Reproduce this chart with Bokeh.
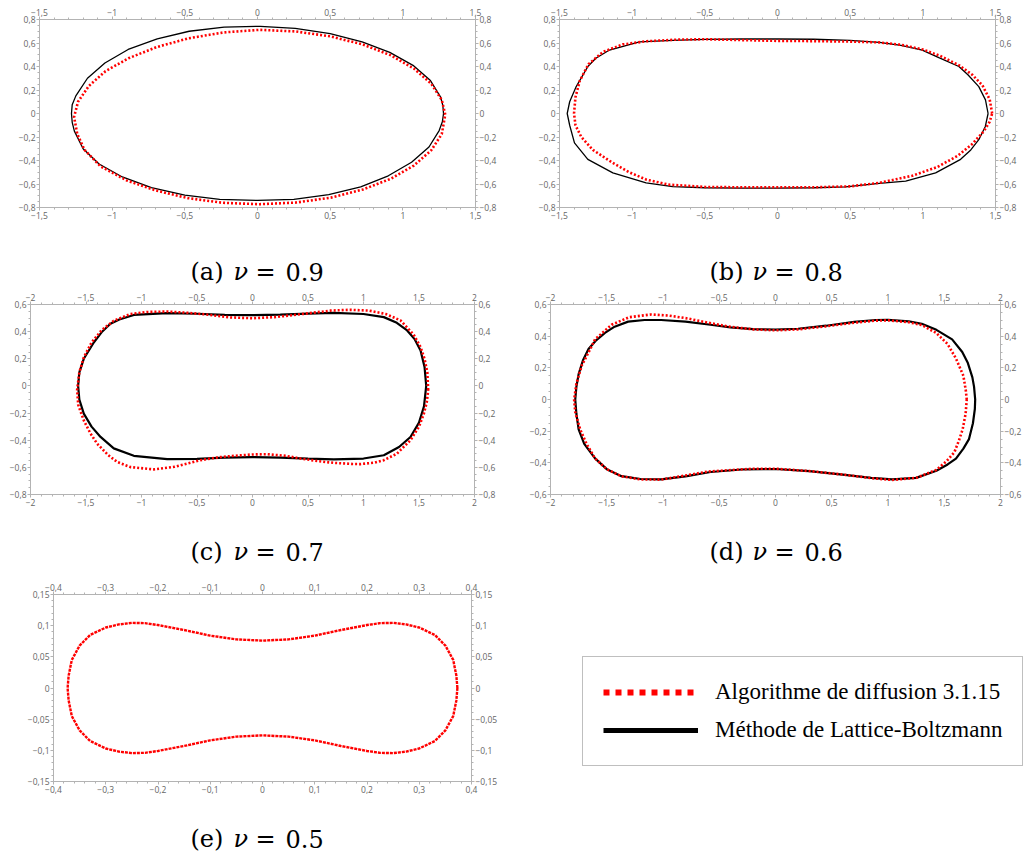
import numpy as np
from bokeh.plotting import figure
from bokeh.models import (Range1d, LinearAxis, FixedTicker, CustomJSTickFormatter,
                          Legend, LegendItem)
from bokeh.core.properties import value
from bokeh.layouts import row, column
from bokeh.embed import file_html
from bokeh.resources import INLINE

# ---------------- data ----------------
PANELS = ["a", "b", "c", "d", "e"]
NU = ["0.9", "0.8", "0.7", "0.6", "0.5"]
LEGEND_LABELS = ["Algorithme de diffusion 3.1.15", "Méthode de Lattice-Boltzmann"]

# (a) nu = 0.9
A_LBM_X = [1.28, 1.275, 1.26, 1.19, 1.07, 0.91, 0.72, 0.50, 0.26, 0.02, -0.23, -0.47, -0.69, -0.89, -1.05, -1.17, -1.25,
           -1.275, -1.28, -1.275, -1.26, -1.20, -1.09, -0.93, -0.73, -0.50, -0.26, 0.00, 0.25, 0.49, 0.71, 0.90, 1.06, 1.18, 1.25, 1.272]
A_LBM_Y = [0.00, 0.07, 0.14, 0.28, 0.41, 0.52, 0.61, 0.68, 0.725, 0.742, 0.735, 0.70, 0.635, 0.545, 0.43, 0.30, 0.15,
           0.075, 0.00, -0.075, -0.15, -0.30, -0.43, -0.54, -0.63, -0.695, -0.73, -0.74, -0.73, -0.69, -0.625, -0.53, -0.415, -0.285, -0.145, -0.07]
A_DIF_X = [1.292, 1.268, 1.195, 1.076, 0.918, 0.725, 0.504, 0.264, 0.015, -0.234, -0.474, -0.695, -0.888, -1.046, -1.16, -1.235,
           -1.262, -1.24, -1.19, -1.08, -0.90, -0.70, -0.48, -0.24, 0.015, 0.264, 0.504, 0.725, 0.918, 1.076, 1.195, 1.268]
A_DIF_Y = [-0.01, 0.115, 0.254, 0.383, 0.495, 0.587, 0.656, 0.698, 0.712, 0.69, 0.64, 0.565, 0.47, 0.36, 0.235, 0.10,
           -0.03, -0.175, -0.31, -0.45, -0.57, -0.655, -0.72, -0.76, -0.772, -0.758, -0.716, -0.647, -0.555, -0.443, -0.314, -0.175]

# (b) nu = 0.8
B_LBM_X = [1.449, 1.431, 1.385, 1.31, 1.248, 1.11, 0.996, 0.85, 0.70, 0.50, 0.25, 0.0, -0.25, -0.5, -0.72, -0.95, -1.156,
           -1.25, -1.305, -1.385, -1.43, -1.447, -1.43, -1.397, -1.305, -1.133, -0.904, -0.721, -0.5, -0.25, 0.0, 0.25,
           0.469, 0.7, 0.882, 1.088, 1.26, 1.33, 1.385, 1.43]
B_LBM_Y = [0.0, 0.116, 0.229, 0.33, 0.40, 0.475, 0.54, 0.58, 0.605, 0.623, 0.632, 0.634, 0.634, 0.630, 0.622, 0.61, 0.54,
           0.47, 0.40, 0.229, 0.10, 0.0, -0.10, -0.25, -0.39, -0.505, -0.59, -0.622, -0.632, -0.635, -0.635, -0.632,
           -0.624, -0.595, -0.576, -0.505, -0.39, -0.31, -0.223, -0.11]
B_DIF_X = [1.477, 1.46, 1.41, 1.34, 1.25, 1.12, 1.0, 0.85, 0.7, 0.5, 0.25, 0.0, -0.25, -0.5, -0.7, -0.9, -1.065, -1.2,
           -1.3, -1.36, -1.39, -1.40, -1.39, -1.35, -1.27, -1.133, -1.02, -0.904, -0.75, -0.5, -0.25, 0.0, 0.25, 0.5,
           0.7, 0.927, 1.1, 1.24, 1.34, 1.42, 1.46]
B_DIF_Y = [0.0, 0.12, 0.24, 0.33, 0.41, 0.49, 0.545, 0.585, 0.605, 0.612, 0.616, 0.618, 0.625, 0.632, 0.628, 0.615, 0.588, 0.525,
           0.42, 0.28, 0.14, 0.0, -0.10, -0.20, -0.31, -0.421, -0.50, -0.562, -0.605, -0.625, -0.628, -0.628, -0.628, -0.62,
           -0.59, -0.53, -0.455, -0.36, -0.26, -0.15, -0.07]

# (c) nu = 0.7
C_LBM_X = [1.565, 1.55, 1.514, 1.46, 1.393, 1.30, 1.183, 1.0, 0.733, 0.5, 0.25, 0.0, -0.25, -0.5, -0.769, -1.069, -1.2,
           -1.28, -1.36, -1.43, -1.52, -1.56, -1.571, -1.56, -1.52, -1.45, -1.369, -1.25, -1.069, -0.769, -0.5, -0.25,
           0.0, 0.25, 0.5, 0.733, 1.0, 1.183, 1.32, 1.423, 1.50, 1.545]
C_LBM_Y = [0.0, 0.14, 0.261, 0.345, 0.409, 0.465, 0.507, 0.530, 0.538, 0.533, 0.525, 0.521, 0.524, 0.532, 0.536, 0.523, 0.49,
           0.458, 0.395, 0.32, 0.20, 0.10, 0.0, -0.10, -0.204, -0.30, -0.376, -0.46, -0.515, -0.540, -0.537, -0.528,
           -0.524, -0.528, -0.535, -0.541, -0.535, -0.511, -0.45, -0.376, -0.27, -0.15]
C_DIF_X = [1.583, 1.575, 1.55, 1.514, 1.45, 1.333, 1.2, 1.05, 0.883, 0.7, 0.583, 0.4, 0.2, 0.0, -0.2, -0.4, -0.6, -0.769,
           -0.95, -1.1, -1.25, -1.36, -1.45, -1.52, -1.56, -1.58, -1.57, -1.52, -1.46, -1.399, -1.3, -1.219, -1.1, -0.889,
           -0.7, -0.468, -0.3, -0.168, 0.0, 0.132, 0.3, 0.432, 0.6, 0.733, 0.9, 0.973, 1.1, 1.183, 1.3, 1.423, 1.5, 1.544, 1.57]
C_DIF_Y = [-0.03, 0.10, 0.20, 0.286, 0.38, 0.483, 0.53, 0.555, 0.561, 0.555, 0.543, 0.525, 0.507, 0.499, 0.505, 0.525, 0.54, 0.548,
           0.545, 0.53, 0.48, 0.41, 0.32, 0.21, 0.10, -0.03, -0.14, -0.254, -0.35, -0.426, -0.51, -0.56, -0.598, -0.615,
           -0.595, -0.547, -0.525, -0.515, -0.505, -0.503, -0.515, -0.535, -0.555, -0.567, -0.575, -0.576, -0.565, -0.547, -0.50, -0.40, -0.30, -0.204, -0.12]

# (d) nu = 0.6
D_LBM_X = [1.775, 1.765, 1.75, 1.71, 1.66, 1.57, 1.43, 1.30, 1.184, 1.0, 0.891, 0.7, 0.451, 0.2, 0.0, -0.2, -0.4, -0.577,
           -0.8, -1.017, -1.164, -1.31, -1.43, -1.516, -1.60, -1.662, -1.71, -1.75, -1.77, -1.78, -1.77, -1.75, -1.70,
           -1.604, -1.50, -1.369, -1.2, -1.017, -0.8, -0.577, -0.3, 0.0, 0.3, 0.597, 0.85, 1.037, 1.25, 1.43, 1.53, 1.604,
           1.67, 1.72, 1.755, 1.772]
D_LBM_Y = [0.0, 0.08, 0.14, 0.23, 0.30, 0.38, 0.44, 0.478, 0.494, 0.503, 0.502, 0.49, 0.466, 0.447, 0.441, 0.444, 0.456, 0.472,
           0.492, 0.502, 0.502, 0.492, 0.46, 0.421, 0.37, 0.319, 0.25, 0.16, 0.08, 0.0, -0.09, -0.189, -0.28,
           -0.372, -0.44, -0.484, -0.502, -0.504, -0.485, -0.458, -0.442, -0.439, -0.452, -0.474, -0.495, -0.504, -0.495, -0.45, -0.41, -0.373,
           -0.31, -0.25, -0.15, -0.06]
D_DIF_X = [1.70, 1.692, 1.67, 1.604, 1.53, 1.429, 1.30, 1.184, 1.0, 0.891, 0.7, 0.45, 0.2, 0.0, -0.2, -0.43, -0.6, -0.782,
           -0.95, -1.105, -1.30, -1.457, -1.604, -1.66, -1.72, -1.77, -1.79, -1.78, -1.736, -1.68, -1.604, -1.50, -1.37,
           -1.2, -1.017, -0.8, -0.6, -0.43, -0.2, 0.0, 0.3, 0.597, 0.85, 1.037, 1.25, 1.429, 1.52, 1.59, 1.63, 1.663, 1.69]
D_DIF_Y = [0.0, 0.055, 0.15, 0.259, 0.35, 0.42, 0.47, 0.488, 0.50, 0.498, 0.485, 0.462, 0.443, 0.437, 0.443, 0.462, 0.485, 0.512,
           0.53, 0.537, 0.52, 0.472, 0.38, 0.30, 0.218, 0.10, 0.0, -0.08, -0.189, -0.28, -0.372, -0.44, -0.485,
           -0.505, -0.506, -0.48, -0.455, -0.447, -0.437, -0.437, -0.452, -0.474, -0.497, -0.508, -0.495, -0.445, -0.39, -0.333, -0.26, -0.19, -0.09]

# (e) nu = 0.5
E_DIF_X = [0.373, 0.371, 0.365, 0.35, 0.33, 0.30, 0.275, 0.25, 0.225, 0.2, 0.15, 0.1, 0.05, 0.0, -0.05, -0.1, -0.15, -0.2,
           -0.225, -0.25, -0.275, -0.30, -0.33, -0.35, -0.365, -0.371, -0.373, -0.371, -0.365, -0.35, -0.33, -0.30, -0.275,
           -0.25, -0.225, -0.2, -0.15, -0.1, -0.05, 0.0, 0.05, 0.1, 0.15, 0.2, 0.225, 0.25, 0.275, 0.30, 0.33, 0.35, 0.365, 0.371]
E_DIF_Y = [0.0, 0.02, 0.045, 0.068, 0.085, 0.097, 0.102, 0.1045, 0.104, 0.101, 0.093, 0.084, 0.078, 0.076, 0.078, 0.084, 0.093, 0.101,
           0.104, 0.1045, 0.102, 0.097, 0.085, 0.068, 0.045, 0.02, 0.0, -0.02, -0.045, -0.068, -0.085, -0.097, -0.102,
           -0.1045, -0.104, -0.101, -0.093, -0.084, -0.078, -0.076, -0.078, -0.084, -0.093, -0.101, -0.104, -0.1045, -0.102, -0.097, -0.085, -0.068, -0.045, -0.02]

# ---------------- styling helpers ----------------
RED = "#ff0000"
AX_COL = "#b3b3b3"
LAB_COL = "#666666"
CAP_FONT = "DejaVu Serif"
CAP_SIZE = "24px"

FMT = CustomJSTickFormatter(code="""
const r = Math.round(tick * 10000) / 10000;
if (r === 0) return "0";
const s = Math.abs(r).toString().replace(".", ",");
return (r < 0 ? "\u2212" : "") + s;
""")


def ticks(a, b, step):
    n = int(round((b - a) / step))
    return [round(a + i * step, 5) for i in range(n + 1)]


def blank(width, height, xr, yr, left=0, right=0):
    p = figure(width=width, height=height, x_range=Range1d(*xr), y_range=Range1d(*yr),
               output_backend="svg", toolbar_location=None, min_border=0,
               min_border_left=left, min_border_right=right,
               x_axis_location=None, y_axis_location=None,
               background_fill_color="white", border_fill_color="white")
    p.xgrid.visible = False
    p.ygrid.visible = False
    p.outline_line_color = None
    return p


def panel(xr, xstep, xsub, yr, ystep, ysub, width, height, left, right, top, bottom):
    p = figure(width=width, height=height, x_range=Range1d(*xr), y_range=Range1d(*yr),
               output_backend="svg", toolbar_location=None,
               min_border_left=left, min_border_right=right,
               min_border_top=top, min_border_bottom=bottom,
               background_fill_color="white", border_fill_color="white")
    p.add_layout(LinearAxis(), "above")
    p.add_layout(LinearAxis(), "right")
    xt, xm = ticks(xr[0], xr[1], xstep), ticks(xr[0], xr[1], xstep / xsub)
    yt, ym = ticks(yr[0], yr[1], ystep), ticks(yr[0], yr[1], ystep / ysub)
    for ax in p.xaxis:
        ax.ticker = FixedTicker(ticks=xt, minor_ticks=xm)
    for ax in p.yaxis:
        ax.ticker = FixedTicker(ticks=yt, minor_ticks=ym)
    for ax in p.axis:
        ax.formatter = FMT
        ax.axis_line_color = AX_COL
        ax.major_tick_line_color = AX_COL
        ax.minor_tick_line_color = AX_COL
        ax.major_tick_out = 3
        ax.major_tick_in = 0
        ax.minor_tick_out = 2
        ax.minor_tick_in = 0
        ax.major_label_standoff = 1
        ax.major_label_text_font = "Open Sans"
        ax.major_label_text_font_size = "8.5px"
        ax.major_label_text_color = LAB_COL
    p.xgrid.visible = False
    p.ygrid.visible = False
    p.outline_line_color = None
    return p


def closed(v):
    return list(v) + [v[0]]


def draw(p, lbm_x, lbm_y, dif_x, dif_y, black_w, red_w=2.6, red_dash="2 2"):
    if lbm_x is not None:
        p.line(closed(lbm_x), closed(lbm_y), line_color="black", line_width=black_w)
    p.line(closed(dif_x), closed(dif_y), line_color=RED, line_width=red_w, line_dash=red_dash)


def add_caption(c, px, baseline, letter, nu):
    parts = [(f"({letter})", 0, "normal"), ("ν", 43, "italic"), ("=", 65, "normal"), (nu, 95, "normal")]
    for txt, off, style in parts:
        c.text(x=[px + off], y=[baseline], text=[txt], text_font=value(CAP_FONT),
               text_font_style=value(style), text_font_size=value(CAP_SIZE),
               text_baseline=value("alphabetic"), text_align=value("left"), text_color="black")


# ---------------- panels ----------------
pa = panel((-1.5, 1.5), 0.5, 5, (-0.8, 0.8), 0.2, 4, 517, 230, 39, 42, 19, 23)
draw(pa, A_LBM_X, A_LBM_Y, A_DIF_X, A_DIF_Y, 1.3)

pb = panel((-1.5, 1.5), 0.5, 5, (-0.8, 0.8), 0.2, 4, 507, 230, 42, 29, 19, 22)
draw(pb, B_LBM_X, B_LBM_Y, B_DIF_X, B_DIF_Y, 1.3)

cap1 = blank(1024, 60, (0, 1024), (60, 0))
add_caption(cap1, 190, 41, PANELS[0], NU[0])
add_caption(cap1, 709, 41, PANELS[1], NU[1])

pc = panel((-2, 2), 0.5, 5, (-0.8, 0.6), 0.2, 4, 517, 230, 30, 43, 14, 26)
draw(pc, C_LBM_X, C_LBM_Y, C_DIF_X, C_DIF_Y, 2.2)

pd = panel((-2, 2), 0.5, 5, (-0.6, 0.6), 0.2, 4, 507, 230, 33, 19, 11, 23)
draw(pd, D_LBM_X, D_LBM_Y, D_DIF_X, D_DIF_Y, 2.2)

cap2 = blank(1024, 55, (0, 1024), (55, 0))
add_caption(cap2, 190, 31, PANELS[2], NU[2])
add_caption(cap2, 709, 31, PANELS[3], NU[3])

pe = panel((-0.4, 0.4), 0.1, 5, (-0.15, 0.15), 0.05, 5, 517, 230, 53, 46, 19, 24)
draw(pe, None, None, E_DIF_X, E_DIF_Y, 0, red_w=2.4, red_dash="3 1")

# caption strip under (e): its frame spans page x 53..471, so data x = page x
cap3 = blank(517, 48, (53, 471), (48, 0), left=53, right=46)
add_caption(cap3, 190, 33, PANELS[4], NU[4])

# ---------------- legend panel ----------------
pl = figure(width=507, height=278, x_range=Range1d(0, 1), y_range=Range1d(0, 1),
            output_backend="svg", toolbar_location=None, min_border=0,
            min_border_top=16, x_axis_location=None, y_axis_location=None,
            background_fill_color="white", border_fill_color="white")
pl.xgrid.visible = False
pl.ygrid.visible = False
pl.outline_line_color = None
r_dif = pl.line(x=[-5, -4], y=[-5, -4], line_color=RED, line_width=6, line_dash="6 6")
r_lbm = pl.line(x=[-5, -4], y=[-5, -4], line_color="black", line_width=5)
legend = Legend(items=[LegendItem(label=LEGEND_LABELS[0], renderers=[r_dif]),
                       LegendItem(label=LEGEND_LABELS[1], renderers=[r_lbm])],
                location="top_left", margin=65, padding=20, spacing=8,
                glyph_width=95, glyph_height=30, label_standoff=17,
                label_text_font="Liberation Serif", label_text_font_size="23px",
                label_text_color="black", label_text_baseline="middle",
                border_line_color="#7f7f7f", border_line_width=1,
                background_fill_color="white", background_fill_alpha=1.0)
pl.add_layout(legend)

layout = column(row(pa, pb), cap1, row(pc, pd), cap2, row(column(pe, cap3), pl))

with open("out.html", "w") as f:
    f.write(file_html(layout, INLINE))
